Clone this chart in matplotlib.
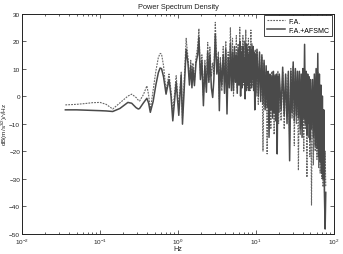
import numpy as np
import matplotlib
matplotlib.use("Agg")
import matplotlib.pyplot as plt
from matplotlib.ticker import LogLocator, NullFormatter

plt.rcParams['font.family'] = ['Liberation Sans', 'DejaVu Sans']
plt.rcParams['mathtext.default'] = 'regular'

# low frequency part (smooth)
freq_low = [0.036, 0.05, 0.065, 0.08, 0.1, 0.12, 0.1456, 0.18, 0.228, 0.255, 0.29,
            0.31, 0.322, 0.36, 0.399, 0.42, 0.442, 0.48, 0.52, 0.56, 0.59]
fa_low = [-3.2, -3.0, -2.7, -2.4, -2.3, -3.0, -4.7, -2.5, 0.0, 0.7, -0.5,
          -1.5, -1.8, 0.5, 3.7, 0.5, -5.0, 2.0, 9.0, 14.0, 15.5]
afsmc_low = [-5.0, -5.0, -5.1, -5.2, -5.3, -5.4, -5.6, -4.5, -2.3, -2.6, -4.2,
             -4.7, -4.5, -2.5, -0.8, -2.5, -5.9, -2.0, 4.0, 8.5, 10.2]

# 0.6 - 3.4 Hz, separate peaks
freq_mid = [0.615, 0.653, 0.703, 0.767, 0.814, 0.858, 0.948, 1.024, 1.099, 1.142,
            1.273, 1.343, 1.403, 1.458, 1.51, 1.555, 1.625, 1.70, 1.79, 1.855,
            1.94, 2.026, 2.118, 2.213, 2.313, 2.404, 2.49, 2.564, 2.68, 2.785,
            2.884, 3.01, 3.15, 3.293, 3.39]
fa_mid = [15.3, 11, 2, 8, 2, -6, 7.4, -4, 8.7, -8,
          21, 14, 6, 13, 7, 12, 5, 14, 18, 24.5,
          8, 15, 0, 13, 3, 19.5, 6, 17.8, 7, 12,
          8, 26.8, 10, 16, -1]
afsmc_mid = [10.0, 7, 0.7, 6, 0, -9, 5, -7, 7.5, -10.2,
             17, 12, 4, 11, 3, 10, 3.8, 12, 15, 21.4,
             6, 13, -3.5, 11, 1.4, 16, 5, 15, 3, -0.5,
             6, 22.5, 8, 14, -5.3]

# 3.5 - 10 Hz, dense
freq_dense = [3.5, 3.65, 3.8, 3.95, 4.1, 4.25, 4.4, 4.55, 4.7, 4.85,
              5.0, 5.15, 5.3, 5.45, 5.6, 5.75, 5.9, 6.05, 6.2, 6.35,
              6.5, 6.65, 6.8, 6.95, 7.1, 7.25, 7.4, 7.55, 7.7, 7.85,
              8.0, 8.15, 8.3, 8.45, 8.6, 8.75, 8.9, 9.05, 9.2, 9.35,
              9.5, 9.65, 9.8, 9.95]
fa_dense = [14, 2, 18, 5, 20, 1, 16, 6, 25, 4,
            21, 0, 17, 8, 22, 3, 19, 6, 25, 2,
            18, 7, 22, 4, 20, 1, 24, 5, 19, 3,
            21, 6, 18, 2, 24, 8, 19, 4, 16, 7,
            15, 3, 17, 1]
afsmc_dense = [12, 4, 15, 1, 17, -6.5, 14, 3, 19, 2,
               16, 2, 18, 5, 15, 1, 17, 4, 20, 0,
               16, 3, 18, 5, 14, -1, 19, 2, 17, 4,
               15, 2, 18, 5, 16, 3, 17, 6, 18, 2,
               16, -5, 15, 0]

# 10 - 79 Hz, dense, falling off
freq_high = [10.3, 10.7, 11.1, 11.5, 11.9, 12.3, 12.7, 13.1, 13.5, 13.9,
             14.3, 14.7, 15.1, 15.5, 15.9, 16.3, 16.7, 17.1, 17.5, 17.9,
             18.3, 18.7, 19.1, 19.5, 19.9,
             21, 22, 23, 24, 25, 26, 27, 28, 29, 30,
             31, 32, 33, 34, 35, 36, 37, 38, 39, 40,
             41, 42, 43, 44, 45, 46, 47, 48, 49, 50,
             51.5, 53, 54.5, 56, 57.5, 59, 60.5, 62, 63.5, 65,
             66.5, 68, 69.5, 71, 72.5, 74, 75.5, 77, 78.5]
fa_high = [16, -3, 15, 0, 14, -20, 12, -4, 9, -21,
           8, -6, 7, -12, 9, -4, 6, -14, 8, -5,
           7, -8, 9, -10, 6,
           -9, 9, -12, 7, -6, 8, -16, 10, -8, 11,
           -18, 9, -10, 7, -27, 8, -14, 6, -9, 7,
           -20, 10, -12, 6, -29.5, 7, -15, 5, -22, 6,
           -39.6, 5, -25, 6, -20, 7, -23, 9, -26, 4,
           -28, 0, -30, -3, -33, -8, -35, -20, -33]
afsmc_high = [17, 0, 16, -2, 15, -3, 13, -5, 11, -4,
              9, -15, 8, -5, 7, -8, 9, -6, 7, -9,
              8, -21, 7, -6, 8,
              -5, 10.5, -7, 8, -10, 9, -23.5, 9, -6, 12.4,
              -9, 10, -7, 9, -8, 9, -12, 8, -15, 10,
              -8, 18.8, -10, 9, -14, 8, -10, 7, -16, 6,
              -12, 6, -15, 8, -18, 10, -19, 15.5, -22, 8,
              -24, 4, -28, 0, -30, -5, -36, -48.3, -35]

freq = np.array(freq_low + freq_mid + freq_dense + freq_high)
fa = np.array(fa_low + fa_mid + fa_dense + fa_high)
afsmc = np.array(afsmc_low + afsmc_mid + afsmc_dense + afsmc_high)

fig = plt.figure(figsize=(3.43, 2.55), dpi=100)
ax = fig.add_axes([0.0641, 0.0796, 0.9096, 0.8635])

ax.semilogx(freq, fa, color='#666666', lw=0.8, ls=(0, (1.6, 1.0)), label='F.A.')
ax.semilogx(freq, afsmc, color='#4a4a4a', lw=1.1, label='F.A.+AFSMC')

ax.set_xlim(1e-2, 1e2)
ax.set_ylim(-50, 30)
ax.set_yticks(range(-50, 31, 10))
ax.xaxis.set_major_locator(LogLocator(base=10, numticks=10))
ax.xaxis.set_minor_locator(LogLocator(base=10, subs=np.arange(2, 10), numticks=10))
ax.xaxis.set_minor_formatter(NullFormatter())
ax.tick_params(which='both', direction='in', top=True, right=True,
               labelsize=4.6, colors='#222222', width=0.5, pad=1.3)
ax.tick_params(axis='x', pad=2.2)
ax.tick_params(which='major', length=3)
ax.tick_params(which='minor', length=1.5)
for s in ax.spines.values():
    s.set_linewidth(0.7)
    s.set_color('#222222')

ax.set_title('Power Spectrum Density', fontsize=5.3, color='#222222', pad=4)
ax.set_xlabel('Hz', fontsize=5.2, color='#222222')
ax.xaxis.set_label_coords(0.5, -0.05)
ax.set_ylabel('dB(m/s$^{3/2}$)/√Hz', fontsize=4.6, color='#222222')
ax.yaxis.set_label_coords(-0.037, 0.5)

leg = ax.legend(loc='upper right', fontsize=5, handlelength=2.6, borderaxespad=0.25,
                fancybox=False, framealpha=1, edgecolor='#222222',
                borderpad=0.35, labelspacing=0.3, handletextpad=0.6)
leg.get_frame().set_linewidth(0.6)

fig.savefig('out.png', dpi=100)
